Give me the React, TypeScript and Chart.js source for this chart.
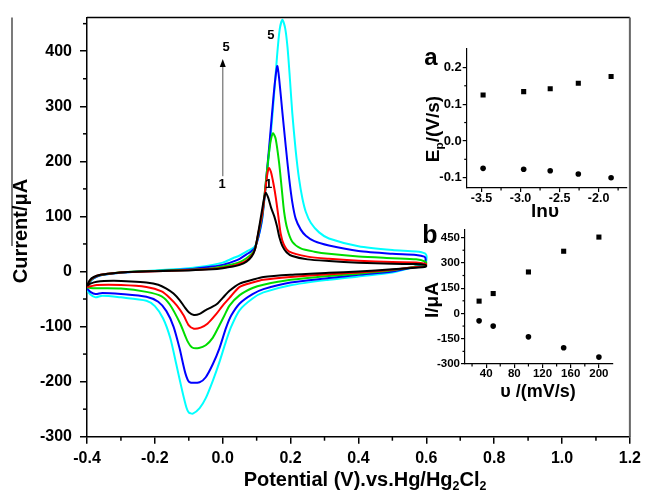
import React, { useEffect, useRef } from 'react';
import { Chart, registerables } from 'chart.js';

Chart.register(...registerables);

const FONT = "'Liberation Sans', Arial, sans-serif";

// ---------- main cyclic voltammograms (x: potential V, y: current µA) ----------
const CV_1: [number, number][] = [
  [-0.4, -26], [-0.392, -16], [-0.38, -10], [-0.36, -6], [-0.33, -3.5], [-0.28, -1], [-0.2, 0.5], [-0.1, 2],
  [-0.03, 4], [0, 6], [0.03, 9], [0.05, 12], [0.07, 18], [0.085, 27], [0.095, 40], [0.105, 72], [0.115, 108],
  [0.122, 133], [0.127, 143], [0.134, 134], [0.143, 115], [0.152, 100], [0.16, 82], [0.167, 62], [0.176, 46],
  [0.188, 35], [0.205, 28], [0.25, 22], [0.313, 19], [0.4, 16], [0.5, 14], [0.57, 13.5], [0.597, 12],
  [0.6, 10],
  [0.595, 8], [0.57, 7], [0.5, 4], [0.4, 0], [0.313, -2.5], [0.2, -6], [0.12, -10], [0.088, -15], [0.05, -22],
  [0.02, -35], [0, -48], [-0.015, -58], [-0.03, -64], [-0.05, -70], [-0.068, -77], [-0.085, -79], [-0.1, -74],
  [-0.113, -64], [-0.127, -52], [-0.145, -40], [-0.166, -31], [-0.19, -24], [-0.225, -20], [-0.27, -18],
  [-0.323, -17], [-0.371, -18.5], [-0.39, -22], [-0.4, -26],
];
const CV_2: [number, number][] = [
  [-0.4, -28], [-0.392, -17], [-0.38, -10.5], [-0.36, -6], [-0.33, -3.5], [-0.28, -1], [-0.2, 0.5], [-0.1, 2.5],
  [-0.03, 5], [0, 7], [0.03, 10], [0.05, 14], [0.07, 20], [0.085, 29], [0.095, 40], [0.105, 70], [0.117, 107],
  [0.126, 150], [0.131, 175], [0.136, 188], [0.142, 181], [0.15, 158], [0.157, 132], [0.164, 100], [0.171, 68],
  [0.18, 49], [0.196, 36], [0.25, 27], [0.313, 23], [0.4, 19.5], [0.5, 17], [0.57, 16.5], [0.597, 14],
  [0.6, 12],
  [0.595, 9], [0.57, 8], [0.5, 3], [0.4, -2], [0.313, -5], [0.2, -10], [0.12, -15], [0.088, -20], [0.05, -28],
  [0.02, -48], [0, -62], [-0.02, -78], [-0.045, -95], [-0.065, -102], [-0.085, -104], [-0.1, -98], [-0.115, -80],
  [-0.135, -62], [-0.156, -48], [-0.18, -36], [-0.225, -28], [-0.3, -24.5], [-0.371, -24.5], [-0.39, -27], [-0.4, -28],
];
const CV_3: [number, number][] = [
  [-0.4, -29], [-0.392, -18], [-0.38, -11], [-0.36, -6.5], [-0.33, -3.5], [-0.28, -1], [-0.2, 1], [-0.1, 3],
  [-0.03, 6], [0, 9], [0.03, 13], [0.05, 17], [0.07, 24], [0.085, 32], [0.095, 41], [0.105, 68], [0.117, 105],
  [0.13, 180], [0.14, 232], [0.148, 251], [0.156, 241], [0.166, 198], [0.174, 150], [0.181, 108], [0.19, 78],
  [0.205, 54], [0.23, 42], [0.27, 36], [0.313, 32], [0.4, 27], [0.5, 24], [0.57, 22], [0.597, 18],
  [0.6, 15],
  [0.595, 10], [0.57, 9], [0.5, 2], [0.4, -4], [0.313, -8], [0.2, -15], [0.12, -24], [0.088, -30], [0.05, -43],
  [0.02, -62], [0.005, -80], [-0.01, -98], [-0.029, -120], [-0.05, -134], [-0.07, -139], [-0.09, -138],
  [-0.105, -125], [-0.125, -95], [-0.156, -60], [-0.18, -45], [-0.225, -37], [-0.3, -31], [-0.371, -30.5],
  [-0.39, -30], [-0.4, -29],
];
const CV_4: [number, number][] = [
  [-0.4, -31], [-0.392, -19], [-0.38, -12], [-0.36, -7], [-0.33, -4], [-0.28, -1.5], [-0.2, 1], [-0.1, 4],
  [-0.03, 9], [0, 12], [0.03, 18], [0.05, 23], [0.07, 31], [0.085, 37], [0.095, 43], [0.105, 62], [0.117, 100],
  [0.137, 227], [0.15, 320], [0.157, 360], [0.161, 373], [0.166, 352], [0.176, 288], [0.186, 226], [0.196, 168],
  [0.205, 126], [0.215, 96], [0.23, 76], [0.245, 65], [0.27, 55], [0.313, 47], [0.4, 37], [0.5, 32], [0.57, 30],
  [0.594, 27], [0.598, 22],
  [0.593, 12], [0.57, 9], [0.5, 0], [0.4, -6], [0.313, -12], [0.2, -20], [0.12, -32], [0.088, -41], [0.05, -58],
  [0.025, -80], [0.01, -102], [-0.01, -140], [-0.029, -168], [-0.05, -192], [-0.068, -201], [-0.098, -201],
  [-0.11, -185], [-0.127, -140], [-0.145, -100], [-0.166, -72], [-0.19, -55], [-0.225, -46], [-0.3, -41],
  [-0.355, -39], [-0.375, -41], [-0.39, -37], [-0.4, -31],
];
const CV_5: [number, number][] = [
  [-0.4, -33], [-0.392, -20], [-0.38, -12.5], [-0.36, -7], [-0.33, -4], [-0.28, -1.5], [-0.2, 2], [-0.1, 6],
  [-0.03, 12], [0, 16], [0.03, 24], [0.05, 29], [0.07, 36], [0.085, 41], [0.095, 46], [0.105, 62], [0.117, 98],
  [0.137, 218], [0.147, 287], [0.16, 390], [0.168, 440], [0.176, 457], [0.184, 442], [0.191, 407], [0.198, 350],
  [0.205, 288], [0.215, 220], [0.225, 168], [0.235, 132], [0.245, 108], [0.26, 88], [0.284, 71], [0.313, 60],
  [0.4, 46], [0.5, 39], [0.57, 36.5], [0.596, 33], [0.601, 27],
  [0.596, 13], [0.57, 9], [0.5, -2], [0.4, -9], [0.313, -15], [0.2, -25], [0.12, -38], [0.088, -49], [0.05, -70],
  [0.025, -100], [0.01, -126], [-0.01, -165], [-0.029, -198], [-0.05, -230], [-0.068, -248], [-0.088, -258],
  [-0.1, -256], [-0.107, -247], [-0.12, -215], [-0.137, -168], [-0.155, -120], [-0.176, -85], [-0.2, -63],
  [-0.225, -53], [-0.3, -47], [-0.355, -44], [-0.375, -47], [-0.39, -42], [-0.4, -33],
];
const CV_SERIES = [CV_1, CV_2, CV_3, CV_4, CV_5];
const CV_COLORS = ['#000000', '#ff0000', '#00dd00', '#0000ff', '#00ffff'];

const MAIN_X_TICKS = [-0.4, -0.2, 0, 0.2, 0.4, 0.6, 0.8, 1.0, 1.2];
const MAIN_X_MINOR = [-0.3, -0.1, 0.1, 0.3, 0.5, 0.7, 0.9, 1.1];
const MAIN_Y_TICKS = [-300, -200, -100, 0, 100, 200, 300, 400];
const MAIN_Y_MINOR = [-250, -150, -50, 50, 150, 250, 350, 450];

// ---------- inset a: Ep vs ln(v) ----------
const INSET_A_LNV = [-3.48, -2.96, -2.62, -2.26, -1.84];
const INSET_A_EPA = [0.125, 0.134, 0.142, 0.157, 0.175];
const INSET_A_EPC = [-0.0745, -0.077, -0.081, -0.09, -0.1];
const INSET_A_X_TICKS = [-3.5, -3.0, -2.5, -2.0];
const INSET_A_X_MINOR = [-3.25, -2.75, -2.25, -1.75];
const INSET_A_Y_TICKS = [-0.1, 0, 0.1, 0.2];
const INSET_A_Y_MINOR = [-0.05, 0.05, 0.15];

// ---------- inset b: Ip vs v ----------
const INSET_B_RATE = [30, 50, 100, 150, 200];
const INSET_B_IPA = [73, 118, 246, 369, 453];
const INSET_B_IPC = [-44, -75, -139, -204, -259];
const INSET_B_X_TICKS = [40, 80, 120, 160, 200];
const INSET_B_X_MINOR = [20, 60, 100, 140, 180];
const INSET_B_Y_TICKS = [-300, -150, 0, 150, 300, 450];
const INSET_B_Y_MINOR = [-225, -75, 75, 225, 375];

type Part = { t: string; sub?: boolean };

function drawRich(ctx: CanvasRenderingContext2D, parts: Part[], cx: number, baseline: number, size: number) {
  const fontFor = (p: Part) => `bold ${p.sub ? size * 0.62 : size}px ${FONT}`;
  let w = 0;
  for (const p of parts) {
    ctx.font = fontFor(p);
    w += ctx.measureText(p.t).width;
  }
  let x = cx - w / 2;
  ctx.textAlign = 'left';
  ctx.textBaseline = 'alphabetic';
  for (const p of parts) {
    ctx.font = fontFor(p);
    ctx.fillText(p.t, x, baseline + (p.sub ? size * 0.22 : 0));
    x += ctx.measureText(p.t).width;
  }
}

function drawRotated(ctx: CanvasRenderingContext2D, parts: Part[], bx: number, cy: number, size: number) {
  ctx.save();
  ctx.translate(bx, cy);
  ctx.rotate(-Math.PI / 2);
  drawRich(ctx, parts, 0, 0, size);
  ctx.restore();
}

function drawMinor(ctx: CanvasRenderingContext2D, scale: any, values: number[], len: number, lw: number) {
  ctx.save();
  ctx.strokeStyle = '#000';
  ctx.lineWidth = lw;
  for (const v of values) {
    if (v < scale.min || v > scale.max) continue;
    const p = scale.getPixelForValue(v);
    ctx.beginPath();
    if (scale.isHorizontal()) {
      ctx.moveTo(p, scale.top);
      ctx.lineTo(p, scale.top + len);
    } else {
      ctx.moveTo(scale.right, p);
      ctx.lineTo(scale.right - len, p);
    }
    ctx.stroke();
  }
  ctx.restore();
}

function fmt1(v: number) {
  return Math.abs(v) < 1e-9 ? '0.0' : v.toFixed(1);
}
function fmt0(v: number) {
  return String(Math.round(v));
}

function axis(opts: {
  position: 'left' | 'bottom';
  min: number;
  max: number;
  ticks: number[];
  fmt: (v: number) => string;
  fontSize: number;
  tickLen: number;
  pad: number;
  size: number;
  lw: number;
}) {
  return {
    type: 'linear',
    position: opts.position,
    min: opts.min,
    max: opts.max,
    afterBuildTicks: (s: any) => {
      s.ticks = opts.ticks.map((v) => ({ value: v }));
    },
    afterFit: (s: any) => {
      if (opts.position === 'left') s.width = opts.size;
      else s.height = opts.size;
    },
    grid: {
      display: true,
      drawOnChartArea: false,
      drawTicks: true,
      tickLength: opts.tickLen,
      color: '#000',
      lineWidth: opts.lw,
    },
    border: { display: true, color: '#000', width: opts.lw },
    ticks: {
      autoSkip: false,
      maxRotation: 0,
      minRotation: 0,
      padding: opts.pad,
      color: '#000',
      font: { family: FONT, size: opts.fontSize, weight: 'bold' },
      callback: (v: any) => opts.fmt(Number(v)),
    },
  };
}

// annotation positions (data coordinates of the main plot)
const ARROW_X = 0.0;
const ARROW_FROM = 173;
const ARROW_TO = 386;

function mainConfig(): any {
  const decor = {
    id: 'mainDecor',
    afterDraw(chart: any) {
      const ctx: CanvasRenderingContext2D = chart.ctx;
      const { x, y } = chart.scales;
      const ca = chart.chartArea;
      drawMinor(ctx, x, MAIN_X_MINOR, 4, 1.5);
      drawMinor(ctx, y, MAIN_Y_MINOR, 4, 1.5);
      ctx.save();
      // frame
      ctx.strokeStyle = '#000';
      ctx.lineWidth = 1.5;
      ctx.beginPath();
      ctx.moveTo(ca.left, ca.top);
      ctx.lineTo(ca.right, ca.top);
      ctx.stroke();
      ctx.strokeStyle = '#666';
      ctx.lineWidth = 2;
      ctx.beginPath();
      ctx.moveTo(ca.right, ca.top);
      ctx.lineTo(ca.right, ca.bottom);
      ctx.stroke();
      // stray edge line at the far left of the figure
      ctx.strokeStyle = '#222';
      ctx.lineWidth = 1.2;
      ctx.beginPath();
      ctx.moveTo(12, ca.top);
      ctx.lineTo(12, 246);
      ctx.stroke();
      // arrow
      const ax = x.getPixelForValue(ARROW_X);
      const y0 = y.getPixelForValue(ARROW_FROM);
      const y1 = y.getPixelForValue(ARROW_TO);
      ctx.strokeStyle = '#8a8a8a';
      ctx.lineWidth = 1.5;
      ctx.beginPath();
      ctx.moveTo(ax, y0);
      ctx.lineTo(ax, y1 + 6);
      ctx.stroke();
      ctx.fillStyle = '#000';
      ctx.beginPath();
      ctx.moveTo(ax, y1);
      ctx.lineTo(ax - 3, y1 + 8);
      ctx.lineTo(ax + 3, y1 + 8);
      ctx.closePath();
      ctx.fill();
      // labels
      ctx.fillStyle = '#000';
      ctx.font = `bold 13px ${FONT}`;
      ctx.textAlign = 'center';
      ctx.textBaseline = 'middle';
      ctx.fillText('5', x.getPixelForValue(0.01), y.getPixelForValue(407));
      ctx.fillText('1', x.getPixelForValue(-0.002), y.getPixelForValue(158));
      ctx.fillText('5', x.getPixelForValue(0.142), y.getPixelForValue(429));
      ctx.fillText('1', x.getPixelForValue(0.135), y.getPixelForValue(158));
      // axis titles
      drawRotated(ctx, [{ t: 'Current/μA' }], 27, 231, 20);
      drawRich(
        ctx,
        [{ t: 'Potential (V).vs.Hg/Hg' }, { t: '2', sub: true }, { t: 'Cl' }, { t: '2', sub: true }],
        365,
        486,
        20,
      );
      ctx.restore();
    },
  };
  return {
    type: 'scatter',
    data: {
      datasets: CV_SERIES.map((s, i) => ({
        label: String(i + 1),
        data: s.map(([px, py]) => ({ x: px, y: py })),
        showLine: true,
        borderColor: CV_COLORS[i],
        backgroundColor: CV_COLORS[i],
        borderWidth: 2,
        pointRadius: 0,
        tension: 0.25,
      })),
    },
    options: {
      responsive: false,
      animation: false,
      layout: { padding: { left: 0, right: 12.7, top: 13, bottom: 0 } },
      plugins: { legend: { display: false }, tooltip: { enabled: false } },
      scales: {
        x: axis({ position: 'bottom', min: -0.4, max: 1.2, ticks: MAIN_X_TICKS, fmt: fmt1, fontSize: 16, tickLen: 7, pad: 5, size: 62.3, lw: 1.5 }),
        y: axis({ position: 'left', min: -300, max: 461, ticks: MAIN_Y_TICKS, fmt: fmt0, fontSize: 16, tickLen: 7, pad: 8, size: 87, lw: 1.5 }),
      },
    },
    plugins: [decor],
  };
}

const INSET_A_LEFT = 400;
const INSET_A_TOP = 30;
const INSET_B_LEFT = 400;
const INSET_B_TOP = 215;

function insetAConfig(): any {
  const decor = {
    id: 'insetADecor',
    afterDraw(chart: any) {
      const ctx: CanvasRenderingContext2D = chart.ctx;
      drawMinor(ctx, chart.scales.x, INSET_A_X_MINOR, 2.5, 1.2);
      drawMinor(ctx, chart.scales.y, INSET_A_Y_MINOR, 2.5, 1.2);
      ctx.save();
      ctx.translate(-INSET_A_LEFT, -INSET_A_TOP);
      ctx.fillStyle = '#000';
      drawRich(ctx, [{ t: 'a' }], 431, 65, 24);
      drawRotated(ctx, [{ t: 'E' }, { t: 'p', sub: true }, { t: '/(V/s)' }], 439, 129, 19);
      drawRich(ctx, [{ t: 'lnυ' }], 545, 217, 19);
      ctx.restore();
    },
  };
  const pts = (ys: number[]) => INSET_A_LNV.map((v, i) => ({ x: v, y: ys[i] }));
  return {
    type: 'scatter',
    data: {
      datasets: [
        { data: pts(INSET_A_EPA), pointStyle: 'rect', pointRadius: 3.6, backgroundColor: '#000', borderWidth: 0 },
        { data: pts(INSET_A_EPC), pointStyle: 'circle', pointRadius: 2.8, backgroundColor: '#000', borderWidth: 0 },
      ],
    },
    options: {
      responsive: false,
      animation: false,
      layout: { padding: { left: 0, right: 9.3, top: 19, bottom: 0 } },
      plugins: { legend: { display: false }, tooltip: { enabled: false } },
      scales: {
        x: axis({ position: 'bottom', min: -3.69, max: -1.64, ticks: INSET_A_X_TICKS, fmt: fmt1, fontSize: 12.5, tickLen: 4, pad: -1, size: 37, lw: 1.2 }),
        y: axis({ position: 'left', min: -0.128, max: 0.25, ticks: INSET_A_Y_TICKS, fmt: fmt1, fontSize: 13, tickLen: 4, pad: 1, size: 66.7, lw: 1.2 }),
      },
    },
    plugins: [decor],
  };
}

function insetBConfig(): any {
  const decor = {
    id: 'insetBDecor',
    afterDraw(chart: any) {
      const ctx: CanvasRenderingContext2D = chart.ctx;
      drawMinor(ctx, chart.scales.x, INSET_B_X_MINOR, 2.5, 1.2);
      drawMinor(ctx, chart.scales.y, INSET_B_Y_MINOR, 2.5, 1.2);
      ctx.save();
      ctx.translate(-INSET_B_LEFT, -INSET_B_TOP);
      ctx.fillStyle = '#000';
      drawRich(ctx, [{ t: 'b' }], 430, 243, 25);
      drawRotated(ctx, [{ t: 'I/μA' }], 438, 300, 19);
      drawRich(ctx, [{ t: 'υ /(mV/s)' }], 538, 397, 18);
      ctx.restore();
    },
  };
  const pts = (ys: number[]) => INSET_B_RATE.map((v, i) => ({ x: v, y: ys[i] }));
  return {
    type: 'scatter',
    data: {
      datasets: [
        { data: pts(INSET_B_IPA), pointStyle: 'rect', pointRadius: 3.6, backgroundColor: '#000', borderWidth: 0 },
        { data: pts(INSET_B_IPC), pointStyle: 'circle', pointRadius: 2.8, backgroundColor: '#000', borderWidth: 0 },
      ],
    },
    options: {
      responsive: false,
      animation: false,
      layout: { padding: { left: 0, right: 23, top: 15, bottom: 0 } },
      plugins: { legend: { display: false }, tooltip: { enabled: false } },
      scales: {
        x: axis({ position: 'bottom', min: 10, max: 220, ticks: INSET_B_X_TICKS, fmt: fmt0, fontSize: 11.5, tickLen: 4, pad: -1, size: 51, lw: 1.2 }),
        y: axis({ position: 'left', min: -300, max: 495, ticks: INSET_B_Y_TICKS, fmt: fmt0, fontSize: 11.5, tickLen: 4, pad: 1, size: 65, lw: 1.2 }),
      },
    },
    plugins: [decor],
  };
}

export default function App() {
  const mainRef = useRef<HTMLCanvasElement>(null);
  const aRef = useRef<HTMLCanvasElement>(null);
  const bRef = useRef<HTMLCanvasElement>(null);

  useEffect(() => {
    const charts = [
      new Chart(mainRef.current as HTMLCanvasElement, mainConfig()),
      new Chart(aRef.current as HTMLCanvasElement, insetAConfig()),
      new Chart(bRef.current as HTMLCanvasElement, insetBConfig()),
    ];
    return () => charts.forEach((c) => c.destroy());
  }, []);

  return (
    <div style={{ position: 'fixed', left: 0, top: 0, width: 646, height: 499, background: '#fff', overflow: 'hidden' }}>
      <canvas ref={mainRef} width={646} height={499} style={{ position: 'absolute', left: 0, top: 0 }} />
      <canvas ref={aRef} width={236} height={195} style={{ position: 'absolute', left: INSET_A_LEFT, top: INSET_A_TOP }} />
      <canvas ref={bRef} width={236} height={200} style={{ position: 'absolute', left: INSET_B_LEFT, top: INSET_B_TOP }} />
    </div>
  );
}
